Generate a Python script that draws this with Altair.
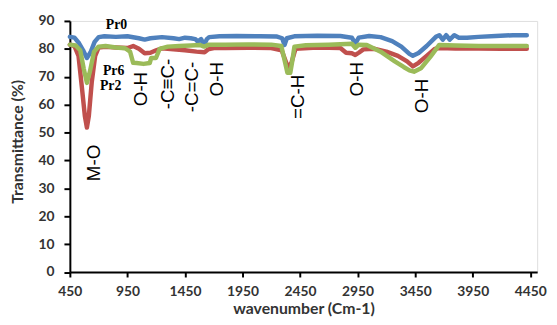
import altair as alt
import pandas as pd

# ---- data ----
pr0_wn = [450, 490, 530, 565, 598, 630, 665, 700, 750, 850, 950, 1050, 1100, 1150, 1250, 1350,
          1400, 1450, 1500, 1540, 1560, 1590, 1616, 1640, 1660, 1750, 1900, 2100, 2250, 2295,
          2315, 2335, 2400, 2600, 2800, 2900, 2930, 2960, 3050, 3150, 3250, 3330, 3400, 3430,
          3480, 3550, 3630, 3660, 3690, 3720, 3750, 3790, 3830, 3900, 4000, 4150, 4300, 4420]
pr0_t = [84.3, 84.0, 82.0, 79.5, 76.7, 78.8, 82.5, 84.2, 84.5, 84.3, 84.5, 83.8, 83.3, 83.8,
         84.2, 83.8, 83.5, 84.0, 83.8, 83.5, 82.6, 83.5, 81.4, 83.5, 84.2, 84.5, 84.6, 84.5,
         84.4, 83.8, 81.4, 83.8, 84.5, 84.7, 84.6, 84.0, 81.9, 84.0, 84.6, 84.2, 82.8, 80.8,
         78.2, 77.5, 78.5, 81.0, 84.3, 84.9, 83.3, 84.9, 83.3, 84.9, 84.0, 84.0, 84.3, 84.6,
         84.9, 84.9]

pr2_wn = [450, 490, 525, 555, 580, 598, 615, 640, 670, 700, 760, 850, 950, 1000, 1050, 1100,
          1150, 1200, 1250, 1350, 1450, 1550, 1620, 1650, 1700, 1800, 2000, 2200, 2290, 2330,
          2350, 2375, 2410, 2600, 2800, 2850, 2900, 2930, 2960, 3000, 3100, 3200, 3300, 3380,
          3430, 3480, 3550, 3620, 3660, 3800, 4000, 4200, 4420]
pr2_t = [81.5, 81.0, 77.5, 66.0, 56.0, 51.8, 56.0, 68.0, 77.5, 80.5, 80.7, 80.5, 80.3, 81.0,
         80.0, 78.4, 78.6, 79.5, 80.2, 79.8, 79.5, 79.0, 78.8, 79.8, 80.3, 80.3, 80.4, 80.3,
         79.5, 75.0, 73.5, 75.0, 80.0, 80.5, 80.3, 78.6, 78.4, 77.8, 78.6, 79.8, 80.0, 79.0,
         77.5, 75.5, 73.7, 75.0, 77.5, 80.0, 80.3, 80.1, 80.1, 80.0, 80.0]

pr6_wn = [450, 500, 540, 570, 598, 625, 660, 700, 760, 850, 930, 973, 1000, 1030, 1090, 1144,
          1156, 1198, 1230, 1300, 1400, 1500, 1580, 1616, 1660, 1800, 2000, 2200, 2287, 2315,
          2340, 2365, 2380, 2401, 2500, 2700, 2900, 2930, 2960, 3030, 3150, 3273, 3350, 3400,
          3440, 3500, 3580, 3659, 3800, 4000, 4200, 4420]
pr6_t = [81.5, 81.2, 79.5, 73.0, 67.8, 72.0, 79.0, 80.8, 81.0, 80.5, 80.2, 79.0, 75.0, 74.9,
         74.6, 74.9, 76.7, 76.7, 80.0, 80.8, 81.0, 81.2, 81.4, 80.8, 81.5, 81.5, 81.6, 81.5,
         81.0, 76.0, 71.4, 71.4, 75.0, 80.8, 81.3, 81.5, 81.8, 80.4, 81.5, 81.4, 79.0, 75.5,
         73.5, 72.3, 71.8, 73.0, 77.0, 81.4, 81.2, 81.0, 81.0, 81.0]

series_names = ["Pr0", "Pr2", "Pr6"]
series_colors = ["#4F81BD", "#C0504D", "#9BBB59"]

x_ticks = [450, 950, 1450, 1950, 2450, 2950, 3450, 3950, 4450]
y_ticks = [0, 10, 20, 30, 40, 50, 60, 70, 80, 90]

# series name labels
name_labels = ["Pr0", "Pr6", "Pr2"]
name_wn = [855, 830, 804]
name_t = [88.6, 72.0, 66.7]

# band labels (vertical)
band_labels = ["M-O", "O-H", "-C≡C-", "-C=C-", "O-H", "=C-H", "O-H", "O-H"]
band_wn = [658, 1070, 1301, 1516, 1730, 2433, 2947, 3513]
band_t = [39.1, 65.6, 67.4, 66.3, 69.1, 62.8, 69.1, 63.1]

# ---- build tables ----
rows = []
for name, wns, ts in zip(series_names, [pr0_wn, pr2_wn, pr6_wn], [pr0_t, pr2_t, pr6_t]):
    for i, (w, t) in enumerate(zip(wns, ts)):
        rows.append({"series": name, "wn": w, "t": t, "order": i})
df = pd.DataFrame(rows)

names_df = pd.DataFrame({"label": name_labels, "wn": name_wn, "t": name_t})
bands_df = pd.DataFrame({"label": band_labels, "wn": band_wn, "t": band_t})

xscale = alt.Scale(domain=[450, 4510], nice=False, zero=False)
yscale = alt.Scale(domain=[0, 90], nice=False)

xaxis = alt.Axis(values=x_ticks, format="d", labelOverlap=False, labelFlush=False,
                 title="wavenumber (Cm-1)", grid=False,
                 domainColor="black", domainWidth=2, tickColor="black", tickWidth=2,
                 tickSize=5, labelPadding=8, labelFont="Lato", labelFontSize=14,
                 labelFontWeight="bold", labelColor="#333333",
                 titleFont="Lato", titleFontSize=16, titleFontWeight="bold",
                 titleColor="#333333", titleBaseline="middle", titleY=37)
yaxis = alt.Axis(values=y_ticks, format="d", labelOverlap=False, labelFlush=False,
                 title="Transmittance (%)", grid=False,
                 domainColor="black", domainWidth=2, tickColor="black", tickWidth=2,
                 tickSize=6, labelPadding=10, labelFont="Lato", labelFontSize=14,
                 labelFontWeight="bold", labelColor="#333333",
                 titleFont="Lato", titleFontSize=16, titleFontWeight="bold",
                 titleColor="#333333", titleBaseline="middle", titleAlign="center",
                 titleX=-53, titleY=122)

X = alt.X("wn:Q", scale=xscale, axis=xaxis, title="wavenumber (Cm-1)")
Y = alt.Y("t:Q", scale=yscale, axis=yaxis, title="Transmittance (%)")

lines = alt.Chart(df).mark_line(strokeWidth=4.5, strokeJoin="round", strokeCap="round").encode(
    x=X, y=Y,
    color=alt.Color("series:N", scale=alt.Scale(domain=series_names, range=series_colors),
                    legend=None),
    order="order:Q",
    detail="series:N",
)

names = alt.Chart(names_df).mark_text(font="Liberation Serif", fontSize=14, fontWeight="bold",
                                      color="black", align="center", baseline="middle").encode(
    x=X, y=Y, text="label:N")

bands = alt.Chart(bands_df).mark_text(font="Liberation Sans", fontSize=19, color="black",
                                      angle=270, align="center", baseline="middle").encode(
    x=X, y=Y, text="label:N")

chart = alt.layer(lines, names, bands).properties(
    width=473.6, height=254.5,
    autosize=alt.AutoSizeParams(type="none"),
    padding={"left": 62.7, "top": 11, "right": 12, "bottom": 48},
).configure_view(stroke=None).configure(background="white")

chart.save("out.html", embed_options={"renderer": "svg", "actions": False})
